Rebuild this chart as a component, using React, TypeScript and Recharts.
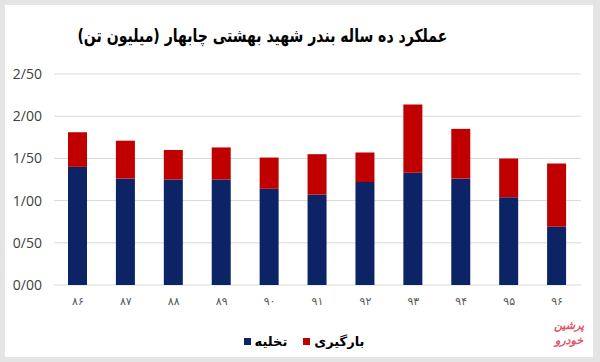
import React from "react";
import { Bar, BarChart, CartesianGrid, XAxis, YAxis } from "recharts";

// years 1386..1396 in Persian digits
const years = ["۸۶", "۸۷", "۸۸", "۸۹", "۹۰", "۹۱", "۹۲", "۹۳", "۹۴", "۹۵", "۹۶"];
// تخلیه (unloading), million tonnes
const unloading = [1.40, 1.26, 1.25, 1.25, 1.14, 1.07, 1.22, 1.33, 1.26, 1.04, 0.69];
// بارگیری (loading), million tonnes
const loading = [0.41, 0.45, 0.35, 0.38, 0.37, 0.48, 0.35, 0.81, 0.59, 0.46, 0.75];
const yTicks = [0, 0.5, 1, 1.5, 2, 2.5];

const BLUE = "#0c2365";
const RED = "#c00000";
const FA = "'DejaVu Sans', sans-serif";

const data = years.map((year, i) => ({
    year,
    unloading: unloading[i],
    loading: loading[i],
}));

// legend drawn by hand, the recharts one would eat into the plot height
const LegendBox = () => (
    <div style={{ position: "absolute", left: 0, top: 334, width: 600, display: "flex", justifyContent: "center", alignItems: "center", fontFamily: FA, fontWeight: "bold", fontSize: 13, color: "#000", paddingLeft: 8, boxSizing: "border-box" }}>
        <span style={{ width: 7, height: 7, background: BLUE, display: "inline-block", marginRight: 4 }} />
        <span style={{ marginRight: 16 }}>تخلیه</span>
        <span style={{ width: 7, height: 7, background: RED, display: "inline-block", marginRight: 4 }} />
        <span>بارگیری</span>
    </div>
);

export default function App() {
    return (
        <div style={{ position: "fixed", top: 0, left: 0, width: 600, height: 362, background: "#e4e4e4" }}>
            <div style={{ position: "absolute", left: 5, top: 5, width: 588, height: 352, background: "#fff" }} />
            <div style={{ position: "absolute", left: 0, top: 25, width: 525, textAlign: "center", fontFamily: FA, fontWeight: "bold", fontSize: 18, color: "#000", transform: "scaleX(0.78)", transformOrigin: "262px 0" }}>
                عملکرد ده ساله بندر شهید بهشتی چابهار (میلیون تن)
            </div>
            <div style={{ position: "absolute", left: 0, top: 0 }}>
                <BarChart width={600} height={362} data={data} margin={{ top: 74, right: 19, bottom: 57, left: 0 }} barSize={19}>
                    <CartesianGrid vertical={false} stroke="#d9d9d9" />
                    <XAxis
                        dataKey="year"
                        height={20}
                        axisLine={false}
                        tickLine={false}
                        tickSize={0}
                        tickMargin={12}
                        tick={{ fill: "#595959", fontSize: 11, fontFamily: FA }}
                    />
                    <YAxis
                        width={54}
                        domain={[0, 2.5]}
                        ticks={yTicks}
                        axisLine={false}
                        tickLine={false}
                        tickSize={0}
                        tickMargin={12}
                        tick={{ fill: "#404040", fontSize: 14, fontFamily: "'Open Sans', sans-serif" }}
                        tickFormatter={(v: number) => v.toFixed(2).replace(".", "/")}
                    />
                    <Bar dataKey="unloading" stackId="a" fill={BLUE} isAnimationActive={false} />
                    <Bar dataKey="loading" stackId="a" fill={RED} isAnimationActive={false} />
                </BarChart>
            </div>
            <LegendBox />
            <div style={{ position: "absolute", left: 548, top: 318, width: 42, textAlign: "center", fontFamily: FA, fontWeight: "bold", fontStyle: "italic", fontSize: 11, lineHeight: "15px", color: "#e0566a" }}>
                <div>پرشین</div>
                <div>خودرو</div>
            </div>
        </div>
    );
}
